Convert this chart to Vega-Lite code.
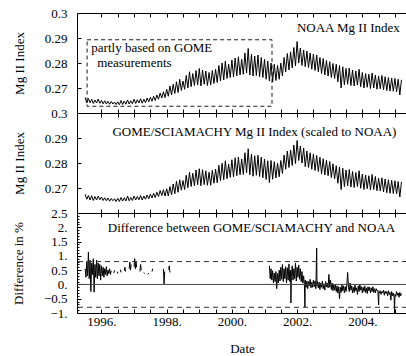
{
"$schema": "https://vega.github.io/schema/vega-lite/v6.json",
"background": "white",
"padding": {"left": 12, "top": 7, "right": 0, "bottom": 0},
"bounds": "flush",
"spacing": 0,
"config": {
  "view": {"stroke": null},
  "font": "Liberation Serif, Times New Roman, DejaVu Serif, serif",
  "text": {"font": "Liberation Serif, Times New Roman, DejaVu Serif, serif"},
  "axis": {"domainColor": "black", "tickColor": "black", "labelColor": "black", "titleColor": "black", "labelFont": "Liberation Serif, Times New Roman, DejaVu Serif, serif", "titleFont": "Liberation Serif, Times New Roman, DejaVu Serif, serif", "labelFontSize": 13, "titleFontSize": 13, "titleFontWeight": "normal", "grid": false, "labelFlush": false, "labelOverlap": false, "labelBound": false, "domainWidth": 1, "tickWidth": 1}
},
"datasets": {
"mg": [
{"t":1995.50,"n":0.2662,"g":0.2675},{"t":1995.55,"n":0.2640,"g":0.2655},{"t":1995.60,"n":0.2658,"g":0.2670},{"t":1995.65,"n":0.2641,"g":0.2652},{"t":1995.70,"n":0.2655,"g":0.2669},{"t":1995.75,"n":0.2638,"g":0.2650},{"t":1995.80,"n":0.2652,"g":0.2666},{"t":1995.85,"n":0.2640,"g":0.2652},{"t":1995.90,"n":0.2656,"g":0.2668},{"t":1995.95,"n":0.2639,"g":0.2653},
{"t":1996.00,"n":0.2650,"g":0.2664},{"t":1996.05,"n":0.2637,"g":0.2650},{"t":1996.10,"n":0.2649,"g":0.2661},{"t":1996.15,"n":0.2636,"g":0.2649},{"t":1996.20,"n":0.2647,"g":0.2660},{"t":1996.25,"n":0.2635,"g":0.2647},{"t":1996.30,"n":0.2646,"g":0.2658},{"t":1996.35,"n":0.2636,"g":0.2649},{"t":1996.40,"n":0.2644,"g":0.2657},{"t":1996.45,"n":0.2634,"g":0.2646},
{"t":1996.50,"n":0.2645,"g":0.2659},{"t":1996.55,"n":0.2633,"g":0.2646},{"t":1996.60,"n":0.2650,"g":0.2662},{"t":1996.65,"n":0.2634,"g":0.2648},{"t":1996.70,"n":0.2648,"g":0.2661},{"t":1996.75,"n":0.2635,"g":0.2648},{"t":1996.80,"n":0.2652,"g":0.2668},{"t":1996.85,"n":0.2636,"g":0.2649},{"t":1996.90,"n":0.2649,"g":0.2662},{"t":1996.95,"n":0.2637,"g":0.2650},
{"t":1997.00,"n":0.2655,"g":0.2668},{"t":1997.05,"n":0.2638,"g":0.2652},{"t":1997.10,"n":0.2653,"g":0.2666},{"t":1997.15,"n":0.2640,"g":0.2653},{"t":1997.20,"n":0.2657,"g":0.2670},{"t":1997.25,"n":0.2639,"g":0.2652},{"t":1997.30,"n":0.2655,"g":0.2668},{"t":1997.35,"n":0.2641,"g":0.2655},{"t":1997.40,"n":0.2660,"g":0.2672},{"t":1997.45,"n":0.2645,"g":0.2657},
{"t":1997.50,"n":0.2663,"g":0.2675},{"t":1997.55,"n":0.2647,"g":0.2660},{"t":1997.60,"n":0.2667,"g":0.2679},{"t":1997.65,"n":0.2650,"g":0.2662},{"t":1997.70,"n":0.2672,"g":0.2683},{"t":1997.75,"n":0.2655,"g":0.2666},{"t":1997.80,"n":0.2680,"g":0.2690},{"t":1997.85,"n":0.2660,"g":0.2670},{"t":1997.90,"n":0.2685,"g":0.2693},{"t":1997.95,"n":0.2662,"g":0.2668},
{"t":1998.00,"n":0.2695,"g":0.2697},{"t":1998.05,"n":0.2667,"g":0.2668},{"t":1998.10,"n":0.2708,"g":0.2706},{"t":1998.15,"n":0.2672,"g":0.2673},{"t":1998.20,"n":0.2715,"g":0.2716},{"t":1998.25,"n":0.2678,"g":0.2677},{"t":1998.30,"n":0.2725,"g":0.2727},{"t":1998.35,"n":0.2682,"g":0.2683},{"t":1998.40,"n":0.2735,"g":0.2733},{"t":1998.45,"n":0.2690,"g":0.2691},
{"t":1998.50,"n":0.2728,"g":0.2730},{"t":1998.55,"n":0.2695,"g":0.2694},{"t":1998.60,"n":0.2750,"g":0.2751},{"t":1998.65,"n":0.2700,"g":0.2701},{"t":1998.70,"n":0.2765,"g":0.2763},{"t":1998.75,"n":0.2705,"g":0.2706},{"t":1998.80,"n":0.2758,"g":0.2759},{"t":1998.85,"n":0.2710,"g":0.2709},{"t":1998.90,"n":0.2770,"g":0.2772},{"t":1998.95,"n":0.2712,"g":0.2713},
{"t":1999.00,"n":0.2778,"g":0.2777},{"t":1999.05,"n":0.2708,"g":0.2709},{"t":1999.10,"n":0.2772,"g":0.2773},{"t":1999.15,"n":0.2715,"g":0.2714},{"t":1999.20,"n":0.2768,"g":0.2769},{"t":1999.25,"n":0.2710,"g":0.2711},{"t":1999.30,"n":0.2762,"g":0.2763},{"t":1999.35,"n":0.2712,"g":0.2711},{"t":1999.40,"n":0.2770,"g":0.2771},{"t":1999.45,"n":0.2718,"g":0.2719},
{"t":1999.50,"n":0.2775,"g":0.2776},{"t":1999.55,"n":0.2722,"g":0.2721},{"t":1999.60,"n":0.2790,"g":0.2791},{"t":1999.65,"n":0.2728,"g":0.2729},{"t":1999.70,"n":0.2800,"g":0.2799},{"t":1999.75,"n":0.2732,"g":0.2733},{"t":1999.80,"n":0.2808,"g":0.2809},{"t":1999.85,"n":0.2738,"g":0.2737},{"t":1999.90,"n":0.2795,"g":0.2796},{"t":1999.95,"n":0.2742,"g":0.2743},
{"t":2000.00,"n":0.2812,"g":0.2813},{"t":2000.05,"n":0.2745,"g":0.2744},{"t":2000.10,"n":0.2820,"g":0.2821},{"t":2000.15,"n":0.2748,"g":0.2749},{"t":2000.20,"n":0.2825,"g":0.2824},{"t":2000.25,"n":0.2752,"g":0.2753},{"t":2000.30,"n":0.2815,"g":0.2816},{"t":2000.35,"n":0.2755,"g":0.2754},{"t":2000.40,"n":0.2840,"g":0.2841},{"t":2000.45,"n":0.2760,"g":0.2761},
{"t":2000.50,"n":0.2858,"g":0.2857},{"t":2000.55,"n":0.2752,"g":0.2753},{"t":2000.60,"n":0.2835,"g":0.2836},{"t":2000.65,"n":0.2748,"g":0.2747},{"t":2000.70,"n":0.2828,"g":0.2829},{"t":2000.75,"n":0.2750,"g":0.2751},{"t":2000.80,"n":0.2832,"g":0.2831},{"t":2000.85,"n":0.2745,"g":0.2746},{"t":2000.90,"n":0.2822,"g":0.2823},{"t":2000.95,"n":0.2742,"g":0.2741},
{"t":2001.00,"n":0.2815,"g":0.2816},{"t":2001.05,"n":0.2735,"g":0.2734},{"t":2001.10,"n":0.2808,"g":0.2809},{"t":2001.15,"n":0.2728,"g":0.2722},{"t":2001.20,"n":0.2800,"g":0.2810},{"t":2001.25,"n":0.2725,"g":0.2735},{"t":2001.30,"n":0.2795,"g":0.2805},{"t":2001.35,"n":0.2730,"g":0.2740},{"t":2001.40,"n":0.2790,"g":0.2800},{"t":2001.45,"n":0.2735,"g":0.2745},
{"t":2001.50,"n":0.2800,"g":0.2810},{"t":2001.55,"n":0.2748,"g":0.2758},{"t":2001.60,"n":0.2822,"g":0.2832},{"t":2001.65,"n":0.2765,"g":0.2775},{"t":2001.70,"n":0.2838,"g":0.2848},{"t":2001.75,"n":0.2772,"g":0.2782},{"t":2001.80,"n":0.2845,"g":0.2852},{"t":2001.85,"n":0.2780,"g":0.2790},{"t":2001.90,"n":0.2862,"g":0.2872},{"t":2001.95,"n":0.2788,"g":0.2798},
{"t":2002.00,"n":0.2886,"g":0.2890},{"t":2002.05,"n":0.2800,"g":0.2810},{"t":2002.10,"n":0.2860,"g":0.2868},{"t":2002.15,"n":0.2790,"g":0.2800},{"t":2002.20,"n":0.2852,"g":0.2860},{"t":2002.25,"n":0.2785,"g":0.2785},{"t":2002.30,"n":0.2848,"g":0.2848},{"t":2002.35,"n":0.2782,"g":0.2782},{"t":2002.40,"n":0.2840,"g":0.2841},{"t":2002.45,"n":0.2775,"g":0.2775},
{"t":2002.50,"n":0.2835,"g":0.2836},{"t":2002.55,"n":0.2770,"g":0.2770},{"t":2002.60,"n":0.2832,"g":0.2830},{"t":2002.65,"n":0.2765,"g":0.2766},{"t":2002.70,"n":0.2822,"g":0.2823},{"t":2002.75,"n":0.2758,"g":0.2757},{"t":2002.80,"n":0.2818,"g":0.2817},{"t":2002.85,"n":0.2752,"g":0.2752},{"t":2002.90,"n":0.2810,"g":0.2811},{"t":2002.95,"n":0.2748,"g":0.2749},
{"t":2003.00,"n":0.2805,"g":0.2806},{"t":2003.05,"n":0.2742,"g":0.2741},{"t":2003.10,"n":0.2798,"g":0.2797},{"t":2003.15,"n":0.2738,"g":0.2737},{"t":2003.20,"n":0.2795,"g":0.2789},{"t":2003.25,"n":0.2725,"g":0.2719},{"t":2003.30,"n":0.2790,"g":0.2784},{"t":2003.35,"n":0.2700,"g":0.2694},{"t":2003.40,"n":0.2785,"g":0.2779},{"t":2003.45,"n":0.2712,"g":0.2706},
{"t":2003.50,"n":0.2778,"g":0.2772},{"t":2003.55,"n":0.2715,"g":0.2709},{"t":2003.60,"n":0.2780,"g":0.2774},{"t":2003.65,"n":0.2710,"g":0.2704},{"t":2003.70,"n":0.2772,"g":0.2766},{"t":2003.75,"n":0.2708,"g":0.2702},{"t":2003.80,"n":0.2768,"g":0.2762},{"t":2003.85,"n":0.2712,"g":0.2706},{"t":2003.90,"n":0.2775,"g":0.2769},{"t":2003.95,"n":0.2705,"g":0.2699},
{"t":2004.00,"n":0.2762,"g":0.2756},{"t":2004.05,"n":0.2700,"g":0.2694},{"t":2004.10,"n":0.2758,"g":0.2752},{"t":2004.15,"n":0.2703,"g":0.2697},{"t":2004.20,"n":0.2755,"g":0.2749},{"t":2004.25,"n":0.2698,"g":0.2692},{"t":2004.30,"n":0.2760,"g":0.2754},{"t":2004.35,"n":0.2700,"g":0.2694},{"t":2004.40,"n":0.2752,"g":0.2746},{"t":2004.45,"n":0.2695,"g":0.2689},
{"t":2004.50,"n":0.2748,"g":0.2739},{"t":2004.55,"n":0.2697,"g":0.2688},{"t":2004.60,"n":0.2750,"g":0.2741},{"t":2004.65,"n":0.2693,"g":0.2684},{"t":2004.70,"n":0.2745,"g":0.2736},{"t":2004.75,"n":0.2690,"g":0.2681},{"t":2004.80,"n":0.2742,"g":0.2733},{"t":2004.85,"n":0.2688,"g":0.2679},{"t":2004.90,"n":0.2740,"g":0.2731},{"t":2004.95,"n":0.2687,"g":0.2678},
{"t":2005.00,"n":0.2738,"g":0.2729},{"t":2005.05,"n":0.2685,"g":0.2676},{"t":2005.10,"n":0.2735,"g":0.2726},{"t":2005.15,"n":0.2672,"g":0.2664},{"t":2005.20,"n":0.2733,"g":0.2724}
],
"diff": [
{"t":1995.500,"d":0.55,"s":1},{"t":1995.525,"d":0.25,"s":1},{"t":1995.550,"d":0.80,"s":1},{"t":1995.575,"d":0.30,"s":1},{"t":1995.600,"d":1.13,"s":1},{"t":1995.625,"d":0.20,"s":1},{"t":1995.650,"d":0.85,"s":1},{"t":1995.675,"d":-0.25,"s":1},{"t":1995.700,"d":0.75,"s":1},{"t":1995.725,"d":0.35,"s":1},
{"t":1995.750,"d":0.90,"s":1},{"t":1995.775,"d":-0.27,"s":1},{"t":1995.800,"d":0.70,"s":1},{"t":1995.825,"d":0.25,"s":1},{"t":1995.850,"d":0.85,"s":1},{"t":1995.875,"d":0.20,"s":1},{"t":1995.900,"d":0.75,"s":1},{"t":1995.925,"d":0.30,"s":1},{"t":1995.950,"d":0.70,"s":1},{"t":1995.975,"d":0.15,"s":1},
{"t":1996.000,"d":0.65,"s":1},{"t":1996.025,"d":0.30,"s":1},{"t":1996.050,"d":0.60,"s":1},{"t":1996.075,"d":0.25,"s":1},{"t":1996.100,"d":0.55,"s":1},{"t":1996.125,"d":0.35,"s":1},{"t":1996.150,"d":0.62,"s":1},{"t":1996.175,"d":0.30,"s":1},{"t":1996.200,"d":0.50,"s":1},{"t":1996.225,"d":0.38,"s":1},{"t":1996.250,"d":0.55,"s":1},{"t":1996.275,"d":0.35,"s":1},{"t":1996.300,"d":0.48,"s":1},
{"t":1996.38,"d":0.40,"s":2},{"t":1996.40,"d":0.50,"s":2},
{"t":1996.48,"d":0.45,"s":3},{"t":1996.50,"d":0.38,"s":3},
{"t":1996.58,"d":0.52,"s":4},{"t":1996.60,"d":0.42,"s":4},
{"t":1996.70,"d":0.48,"s":5},{"t":1996.72,"d":0.60,"s":5},{"t":1996.74,"d":0.45,"s":5},
{"t":1996.85,"d":0.55,"s":6},{"t":1996.87,"d":0.78,"s":6},{"t":1996.89,"d":0.50,"s":6},{"t":1996.91,"d":0.70,"s":6},
{"t":1997.00,"d":0.62,"s":7},{"t":1997.02,"d":0.90,"s":7},{"t":1997.04,"d":0.55,"s":7},{"t":1997.06,"d":0.80,"s":7},{"t":1997.08,"d":0.60,"s":7},
{"t":1997.18,"d":0.45,"s":8},{"t":1997.20,"d":0.70,"s":8},{"t":1997.22,"d":0.50,"s":8},
{"t":1997.30,"d":0.42,"s":9},{"t":1997.33,"d":0.38,"s":9},
{"t":1997.42,"d":0.35,"s":10},{"t":1997.45,"d":0.40,"s":10},
{"t":1997.55,"d":0.45,"s":11},{"t":1997.57,"d":0.55,"s":11},
{"t":1997.90,"d":0.55,"s":12},{"t":1997.92,"d":0.02,"s":12},{"t":1997.94,"d":0.45,"s":12},
{"t":1998.06,"d":0.52,"s":13},{"t":1998.08,"d":0.65,"s":13},{"t":1998.10,"d":0.42,"s":13},
{"t":2001.150,"d":0.65,"s":20},{"t":2001.175,"d":0.20,"s":20},{"t":2001.200,"d":0.55,"s":20},{"t":2001.225,"d":0.15,"s":20},{"t":2001.250,"d":0.48,"s":20},{"t":2001.275,"d":0.05,"s":20},{"t":2001.300,"d":0.40,"s":20},{"t":2001.325,"d":0.10,"s":20},{"t":2001.350,"d":0.45,"s":20},{"t":2001.375,"d":-0.15,"s":20},
{"t":2001.400,"d":0.38,"s":20},{"t":2001.425,"d":0.05,"s":20},{"t":2001.450,"d":0.50,"s":20},{"t":2001.475,"d":0.12,"s":20},{"t":2001.500,"d":0.60,"s":20},{"t":2001.525,"d":0.18,"s":20},{"t":2001.550,"d":0.70,"s":20},{"t":2001.575,"d":0.10,"s":20},{"t":2001.600,"d":0.55,"s":20},{"t":2001.625,"d":0.20,"s":20},
{"t":2001.650,"d":0.62,"s":20},{"t":2001.675,"d":0.05,"s":20},{"t":2001.700,"d":0.58,"s":20},{"t":2001.725,"d":0.15,"s":20},{"t":2001.750,"d":0.72,"s":20},{"t":2001.775,"d":0.10,"s":20},{"t":2001.800,"d":0.50,"s":20},{"t":2001.810,"d":-0.65,"s":20},{"t":2001.825,"d":0.30,"s":20},{"t":2001.850,"d":0.65,"s":20},
{"t":2001.875,"d":0.15,"s":20},{"t":2001.900,"d":0.55,"s":20},{"t":2001.925,"d":0.20,"s":20},{"t":2001.950,"d":0.75,"s":20},{"t":2001.975,"d":0.12,"s":20},{"t":2002.000,"d":0.60,"s":20},{"t":2002.025,"d":0.25,"s":20},{"t":2002.050,"d":0.68,"s":20},{"t":2002.075,"d":0.18,"s":20},{"t":2002.100,"d":0.55,"s":20},
{"t":2002.125,"d":0.10,"s":20},{"t":2002.150,"d":0.45,"s":20},{"t":2002.175,"d":0.05,"s":20},{"t":2002.200,"d":0.30,"s":20},{"t":2002.225,"d":-0.05,"s":20},{"t":2002.240,"d":-0.80,"s":20},{"t":2002.250,"d":0.15,"s":20},{"t":2002.275,"d":-0.10,"s":20},{"t":2002.300,"d":0.12,"s":20},{"t":2002.325,"d":-0.15,"s":20},
{"t":2002.350,"d":0.10,"s":20},{"t":2002.375,"d":-0.05,"s":20},{"t":2002.400,"d":0.18,"s":20},{"t":2002.425,"d":-0.12,"s":20},{"t":2002.450,"d":0.08,"s":20},{"t":2002.475,"d":-0.10,"s":20},{"t":2002.500,"d":0.15,"s":20},{"t":2002.525,"d":-0.08,"s":20},{"t":2002.550,"d":0.12,"s":20},{"t":2002.575,"d":-0.15,"s":20},
{"t":2002.600,"d":1.27,"s":20},{"t":2002.610,"d":-0.05,"s":20},{"t":2002.625,"d":0.10,"s":20},{"t":2002.650,"d":-0.12,"s":20},{"t":2002.675,"d":0.08,"s":20},{"t":2002.700,"d":-0.18,"s":20},{"t":2002.725,"d":0.05,"s":20},{"t":2002.750,"d":-0.10,"s":20},{"t":2002.775,"d":0.12,"s":20},{"t":2002.800,"d":-0.15,"s":20},
{"t":2002.825,"d":0.02,"s":20},{"t":2002.850,"d":-0.20,"s":20},{"t":2002.875,"d":0.10,"s":20},{"t":2002.900,"d":-0.08,"s":20},{"t":2002.925,"d":0.05,"s":20},{"t":2002.950,"d":-0.12,"s":20},{"t":2002.975,"d":0.35,"s":20},{"t":2003.000,"d":-0.10,"s":20},{"t":2003.025,"d":0.15,"s":20},{"t":2003.050,"d":-0.18,"s":20},
{"t":2003.075,"d":0.05,"s":20},{"t":2003.100,"d":-0.22,"s":20},{"t":2003.125,"d":0.00,"s":20},{"t":2003.150,"d":-0.20,"s":20},{"t":2003.175,"d":-0.02,"s":20},{"t":2003.200,"d":-0.25,"s":20},{"t":2003.225,"d":-0.05,"s":20},{"t":2003.250,"d":-0.30,"s":20},{"t":2003.275,"d":-0.08,"s":20},{"t":2003.300,"d":-0.50,"s":20},
{"t":2003.325,"d":-0.10,"s":20},{"t":2003.350,"d":-0.28,"s":20},{"t":2003.375,"d":-0.02,"s":20},{"t":2003.400,"d":-0.22,"s":20},{"t":2003.425,"d":-0.05,"s":20},{"t":2003.450,"d":-0.30,"s":20},{"t":2003.475,"d":-0.08,"s":20},{"t":2003.500,"d":-0.25,"s":20},{"t":2003.525,"d":-0.02,"s":20},{"t":2003.550,"d":0.42,"s":20},
{"t":2003.575,"d":-0.10,"s":20},{"t":2003.600,"d":-0.25,"s":20},{"t":2003.625,"d":0.05,"s":20},{"t":2003.650,"d":-0.20,"s":20},{"t":2003.675,"d":-0.05,"s":20},{"t":2003.700,"d":-0.30,"s":20},{"t":2003.725,"d":-0.10,"s":20},{"t":2003.750,"d":-0.28,"s":20},{"t":2003.775,"d":-0.02,"s":20},{"t":2003.800,"d":-0.22,"s":20},
{"t":2003.825,"d":-0.12,"s":20},{"t":2003.850,"d":-0.35,"s":20},{"t":2003.875,"d":-0.05,"s":20},{"t":2003.900,"d":-0.25,"s":20},{"t":2003.925,"d":0.00,"s":20},{"t":2003.950,"d":-0.20,"s":20},{"t":2003.975,"d":-0.08,"s":20},{"t":2004.000,"d":-0.30,"s":20},{"t":2004.025,"d":-0.10,"s":20},{"t":2004.050,"d":-0.25,"s":20},
{"t":2004.075,"d":-0.05,"s":20},{"t":2004.100,"d":-0.28,"s":20},{"t":2004.125,"d":-0.12,"s":20},{"t":2004.150,"d":-0.32,"s":20},{"t":2004.175,"d":-0.08,"s":20},{"t":2004.200,"d":-0.22,"s":20},{"t":2004.225,"d":-0.10,"s":20},{"t":2004.250,"d":-0.30,"s":20},{"t":2004.275,"d":-0.12,"s":20},{"t":2004.300,"d":-0.25,"s":20},
{"t":2004.325,"d":-0.08,"s":20},{"t":2004.350,"d":-0.28,"s":20},{"t":2004.375,"d":-0.15,"s":20},{"t":2004.400,"d":-0.30,"s":20},{"t":2004.425,"d":-0.15,"s":20},{"t":2004.450,"d":-0.22,"s":20},{"t":2004.475,"d":-0.20,"s":20},{"t":2004.500,"d":-0.72,"s":20},{"t":2004.510,"d":-0.25,"s":20},{"t":2004.525,"d":-0.30,"s":20},
{"t":2004.550,"d":-0.22,"s":20},{"t":2004.575,"d":-0.35,"s":20},{"t":2004.600,"d":-0.25,"s":20},{"t":2004.625,"d":-0.30,"s":20},{"t":2004.650,"d":-0.20,"s":20},{"t":2004.675,"d":-0.38,"s":20},{"t":2004.700,"d":-0.24,"s":20},{"t":2004.725,"d":-0.32,"s":20},{"t":2004.750,"d":-0.25,"s":20},{"t":2004.775,"d":-0.40,"s":20},
{"t":2004.800,"d":-0.22,"s":20},{"t":2004.825,"d":-0.35,"s":20},{"t":2004.850,"d":-0.28,"s":20},{"t":2004.875,"d":-0.55,"s":20},{"t":2004.900,"d":-0.25,"s":20},{"t":2004.925,"d":-0.40,"s":20},{"t":2004.950,"d":-0.30,"s":20},{"t":2004.975,"d":-0.45,"s":20},{"t":2004.990,"d":-1.00,"s":20},{"t":2005.000,"d":-0.35,"s":20},
{"t":2005.025,"d":-0.42,"s":20},{"t":2005.050,"d":-0.25,"s":20},{"t":2005.075,"d":-0.38,"s":20},{"t":2005.100,"d":-0.30,"s":20},{"t":2005.125,"d":-0.45,"s":20},{"t":2005.150,"d":-0.28,"s":20},{"t":2005.175,"d":-0.40,"s":20},{"t":2005.200,"d":-0.32,"s":20}
]
},
"vconcat": [
{
  "width": 330, "height": 100,
  "resolve": {"axis": {"x": "independent"}},
  "layer": [
    {"data": {"name": "mg"}, "mark": {"type": "line", "color": "black", "strokeWidth": 1},
     "encoding": {
       "x": {"field": "t", "type": "quantitative", "scale": {"domain": [1995.25, 2005.37], "nice": false}, "axis": {"orient": "bottom", "labels": false, "title": null, "values": [1996,1996.5,1997,1997.5,1998,1998.5,1999,1999.5,2000,2000.5,2001,2001.5,2002,2002.5,2003,2003.5,2004,2004.5,2005], "tickSize": -4}},
       "y": {"field": "n", "type": "quantitative", "scale": {"domain": [0.26, 0.30], "nice": false, "zero": false}, "axis": {"title": "Mg II Index", "values": [0.27,0.28,0.29,0.30], "format": ".2~f", "labelOverlap": false, "tickSize": -4, "labelPadding": 14, "titlePadding": 18}}
     }},
    {"data": {"values": [{"x1": 1995.56, "x2": 2001.23, "y1": 0.2627, "y2": 0.2893}]},
     "mark": {"type": "rect", "fill": null, "stroke": "black", "strokeWidth": 0.9, "strokeDash": [4, 3]},
     "encoding": {
       "x": {"field": "x1", "type": "quantitative", "scale": {"domain": [1995.25, 2005.37], "nice": false}, "axis": {"orient": "top", "labels": false, "title": null, "values": [1996,1996.5,1997,1997.5,1998,1998.5,1999,1999.5,2000,2000.5,2001,2001.5,2002,2002.5,2003,2003.5,2004,2004.5,2005], "tickSize": -4}},
       "x2": {"field": "x2"},
       "y": {"field": "y1", "type": "quantitative", "scale": {"domain": [0.26, 0.30], "nice": false, "zero": false}, "axis": {"title": "Mg II Index", "values": [0.27,0.28,0.29,0.30], "format": ".2~f", "labelOverlap": false, "tickSize": -4, "labelPadding": 14, "titlePadding": 18}},
       "y2": {"field": "y2"}
     }},
    {"data": {"values": [{"x": 2005.15, "y": 0.2942, "label": "NOAA Mg II Index"}]},
     "mark": {"type": "text", "fontSize": 13, "color": "black", "baseline": "middle", "align": "right"},
     "encoding": {
       "x": {"field": "x", "type": "quantitative", "scale": {"domain": [1995.25, 2005.37], "nice": false}, "axis": null},
       "y": {"field": "y", "type": "quantitative", "scale": {"domain": [0.26, 0.30], "nice": false, "zero": false}, "axis": {"title": "Mg II Index", "values": [0.27,0.28,0.29,0.30], "format": ".2~f", "labelOverlap": false, "tickSize": -4, "labelPadding": 14, "titlePadding": 18}},
       "text": {"field": "label"}
     }},
    {"data": {"values": [
       {"x": 1995.69, "y": 0.2860, "label": "partly based on GOME"},
       {"x": 1995.87, "y": 0.2800, "label": "measurements"}]},
     "mark": {"type": "text", "fontSize": 13, "color": "black", "baseline": "middle", "align": "left"},
     "encoding": {
       "x": {"field": "x", "type": "quantitative", "scale": {"domain": [1995.25, 2005.37], "nice": false}, "axis": null},
       "y": {"field": "y", "type": "quantitative", "scale": {"domain": [0.26, 0.30], "nice": false, "zero": false}, "axis": {"title": "Mg II Index", "values": [0.27,0.28,0.29,0.30], "format": ".2~f", "labelOverlap": false, "tickSize": -4, "labelPadding": 14, "titlePadding": 18}},
       "text": {"field": "label"}
     }}
  ]
},
{
  "width": 330, "height": 100,
  "resolve": {"axis": {"x": "independent"}},
  "layer": [
    {"data": {"name": "mg"}, "mark": {"type": "line", "color": "black", "strokeWidth": 1},
     "encoding": {
       "x": {"field": "t", "type": "quantitative", "scale": {"domain": [1995.25, 2005.37], "nice": false}, "axis": {"orient": "bottom", "labels": false, "title": null, "values": [1996,1996.5,1997,1997.5,1998,1998.5,1999,1999.5,2000,2000.5,2001,2001.5,2002,2002.5,2003,2003.5,2004,2004.5,2005], "tickSize": -4}},
       "y": {"field": "g", "type": "quantitative", "scale": {"domain": [0.26, 0.30], "nice": false, "zero": false}, "axis": {"title": "Mg II Index", "values": [0.27,0.28,0.29,0.30], "format": ".2~f", "labelOverlap": false, "tickSize": -4, "labelPadding": 14, "titlePadding": 18}}
     }},
    {"data": {"values": [{"x": 2000.69, "y": 0.2926, "label": "GOME/SCIAMACHY Mg II Index (scaled to NOAA)"}]},
     "mark": {"type": "text", "fontSize": 13, "color": "black", "baseline": "middle", "align": "center"},
     "encoding": {
       "x": {"field": "x", "type": "quantitative", "scale": {"domain": [1995.25, 2005.37], "nice": false}, "axis": {"orient": "top", "labels": false, "title": null, "values": [1996,1996.5,1997,1997.5,1998,1998.5,1999,1999.5,2000,2000.5,2001,2001.5,2002,2002.5,2003,2003.5,2004,2004.5,2005], "tickSize": -4}},
       "y": {"field": "y", "type": "quantitative", "scale": {"domain": [0.26, 0.30], "nice": false, "zero": false}, "axis": {"title": "Mg II Index", "values": [0.27,0.28,0.29,0.30], "format": ".2~f", "labelOverlap": false, "tickSize": -4, "labelPadding": 14, "titlePadding": 18}},
       "text": {"field": "label"}
     }}
  ]
},
{
  "width": 330, "height": 100,
  "resolve": {"axis": {"x": "independent", "y": "independent"}},
  "layer": [
    {"data": {"name": "diff"}, "mark": {"type": "line", "color": "black", "strokeWidth": 1},
     "encoding": {
       "x": {"field": "t", "type": "quantitative", "scale": {"domain": [1995.25, 2005.37], "nice": false}, "axis": {"orient": "bottom", "title": "Date", "values": [1996,1996.5,1997,1997.5,1998,1998.5,1999,1999.5,2000,2000.5,2001,2001.5,2002,2002.5,2003,2003.5,2004,2004.5,2005], "labelExpr": "datum.value % 2 == 0 ? datum.value + '.' : ''", "tickSize": -4, "labelPadding": 6, "titlePadding": 14}},
       "y": {"field": "d", "type": "quantitative", "scale": {"domain": [-1, 2.5], "nice": false, "zero": false}, "axis": {"orient": "left", "title": "Difference in %", "values": [-1,-0.5,0,0.5,1,1.5,2,2.5], "labelExpr": "datum.value == 0 ? '0.' : (datum.value < 0 ? '\u2212' : '') + (abs(datum.value) % 1 == 0 ? format(abs(datum.value), 'd') + '.' : format(abs(datum.value), '.1f'))", "labelOverlap": false, "tickSize": -4, "labelPadding": 14, "titlePadding": 18}},
       "detail": {"field": "s", "type": "nominal"}
     }},
    {"data": {"values": [{"v": 0}]},
     "mark": {"type": "rule", "color": "#444444", "strokeWidth": 1},
     "encoding": {
       "y": {"field": "v", "type": "quantitative", "scale": {"domain": [-1, 2.5], "nice": false, "zero": false}, "axis": {"orient": "left", "title": null, "labels": false, "domain": false, "values": [-0.9,-0.8,-0.7,-0.6,-0.4,-0.3,-0.2,-0.1,0.1,0.2,0.3,0.4,0.6,0.7,0.8,0.9,1.1,1.2,1.3,1.4,1.6,1.7,1.8,1.9,2.1,2.2,2.3,2.4], "tickSize": -2}}
     }},
    {"data": {"values": [{"v": 0.8}, {"v": -0.8}]},
     "mark": {"type": "rule", "color": "#333333", "strokeWidth": 1, "strokeDash": [5, 4]},
     "encoding": {
       "y": {"field": "v", "type": "quantitative", "scale": {"domain": [-1, 2.5], "nice": false, "zero": false}, "axis": null}
     }},
    {"data": {"values": [{"x": 2000.6, "y": 1.97, "label": "Difference between GOME/SCIAMACHY and NOAA"}]},
     "mark": {"type": "text", "fontSize": 13, "color": "black", "baseline": "middle", "align": "center"},
     "encoding": {
       "x": {"field": "x", "type": "quantitative", "scale": {"domain": [1995.25, 2005.37], "nice": false}, "axis": {"orient": "top", "labels": false, "title": null, "values": [1996,1996.5,1997,1997.5,1998,1998.5,1999,1999.5,2000,2000.5,2001,2001.5,2002,2002.5,2003,2003.5,2004,2004.5,2005], "tickSize": -4}},
       "y": {"field": "y", "type": "quantitative", "scale": {"domain": [-1, 2.5], "nice": false, "zero": false}, "axis": null},
       "text": {"field": "label"}
     }}
  ]
}
]
}
